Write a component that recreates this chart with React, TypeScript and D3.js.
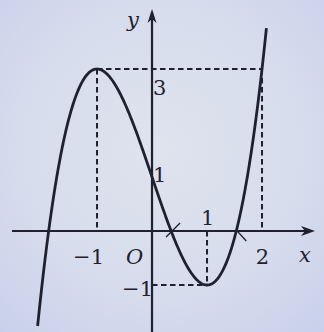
import React from "react";
import * as d3 from "d3";

// f(x) = x^3 - 3x + 1, coefficients from highest degree
const coefficients = [1, 0, -3, 1];
const domainX = [-2.08, 2.08];

// critical / marked points
const markedX = [-1, 1, 2];
const markedY = [3, -1, 3];

const xTickLabels = [
  { v: -1, t: "\u22121" },
  { v: 2, t: "2" },
];
const yTickLabels = [
  { v: 3, t: "3" },
  { v: 1, t: "1" },
  { v: -1, t: "\u22121" },
];

const W = 324;
const H = 332;
const ink = "#1f2130";
const serif = "'DejaVu Serif', 'Liberation Serif', serif";

const f = (x: number) => coefficients.reduce((acc, c) => acc * x + c, 0);

export default function App() {
  const x = d3.scaleLinear().domain([-2.764, 3.127]).range([0, W]);
  const y = d3.scaleLinear().domain([4.278, -1.87]).range([0, H]);

  const samples = d3.range(domainX[0], domainX[1] + 1e-9, 0.01);
  const line = d3
    .line<number>()
    .x((d) => x(d))
    .y((d) => y(f(d)))
    .curve(d3.curveLinear);

  const x0 = x(0);
  const y0 = y(0);
  const dash = "5.5,3.5";

  return (
    <svg
      width={W}
      height={H}
      style={{ position: "absolute", left: 0, top: 0, display: "block" }}
      fontFamily={serif}
    >
      <defs>
        <radialGradient id="bg" cx="0.5" cy="0.45" r="0.75">
          <stop offset="0" stopColor="#dfe3ee" />
          <stop offset="0.6" stopColor="#d6dcec" />
          <stop offset="1" stopColor="#c8d0ec" />
        </radialGradient>
      </defs>
      <rect width={W} height={H} fill="url(#bg)" />

      {/* dashed guides */}
      <g stroke={ink} strokeWidth={2} strokeDasharray={dash} fill="none">
        <line x1={x(markedX[0])} y1={y(markedY[0])} x2={x(markedX[2])} y2={y(markedY[2])} />
        <line x1={x(markedX[0])} y1={y(markedY[0])} x2={x(markedX[0])} y2={y0} />
        <line x1={x(markedX[2])} y1={y(markedY[2])} x2={x(markedX[2])} y2={y0} />
        <line x1={x(markedX[1])} y1={y0} x2={x(markedX[1])} y2={y(markedY[1])} />
        <line x1={x0} y1={y(markedY[1])} x2={x(markedX[1])} y2={y(markedY[1])} />
      </g>

      {/* axes */}
      <g stroke={ink} strokeWidth={2.2} fill="none">
        <line x1={12} y1={y0} x2={312} y2={y0} />
        <line x1={x0} y1={H} x2={x0} y2={12} />
      </g>
      <path d={`M315,${y0} L301,${y0 - 5} L305,${y0} L301,${y0 + 5} Z`} fill={ink} />
      <path d={`M${x0},9 L${x0 - 4.5},23 L${x0},19 L${x0 + 4.5},23 Z`} fill={ink} />

      {/* curve */}
      <path d={line(samples) ?? ""} fill="none" stroke={ink} strokeWidth={2.8} strokeLinejoin="round" />

      {/* small marks at the roots */}
      <g stroke={ink} strokeWidth={1.3}>
        <line x1={x(0.347) - 5} y1={y0 + 6} x2={x(0.347) + 9} y2={y0 - 8} />
        <line x1={x(1.532)} y1={y0 - 1} x2={x(1.532) + 10} y2={y0 + 10} />
      </g>

      {/* labels */}
      <g fill={ink} fontSize={21}>
        {xTickLabels.map((d) => (
          <text key={d.t} x={x(d.v) + 7} y={264} textAnchor="end">
            {d.t}
          </text>
        ))}
        <text x={x(1) - 6} y={225}>1</text>
        <text x={x0 + 1} y={y(yTickLabels[0].v) + 26}>{yTickLabels[0].t}</text>
        <text x={x0 + 1} y={y(yTickLabels[1].v) + 5}>{yTickLabels[1].t}</text>
        <text x={x0 + 1} y={y(yTickLabels[2].v) + 11} textAnchor="end">
          {yTickLabels[2].t}
        </text>
        <text x={126} y={264} fontStyle="italic">O</text>
        <text x={299} y={262} fontStyle="italic">x</text>
        <text x={127} y={27} fontStyle="italic">y</text>
      </g>
    </svg>
  );
}
